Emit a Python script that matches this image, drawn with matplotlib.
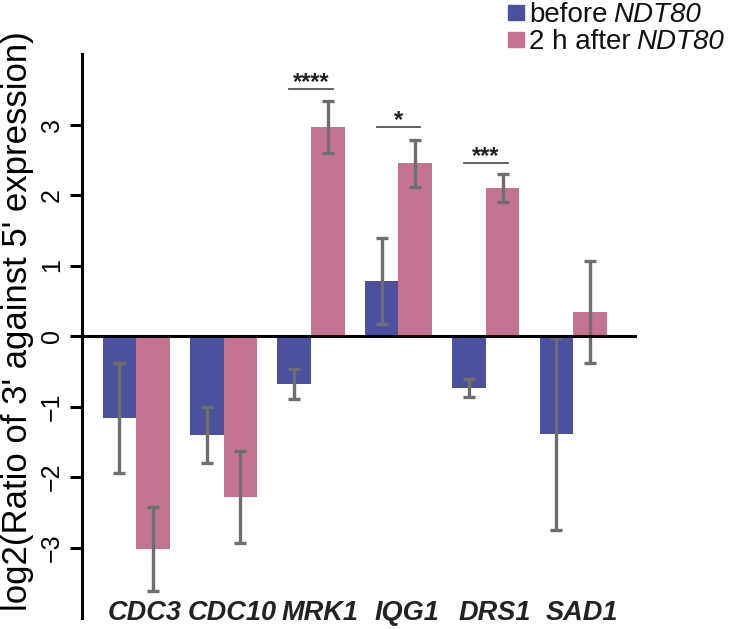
import matplotlib
matplotlib.use("Agg")
import matplotlib.pyplot as plt
import numpy as np
from matplotlib.patches import Rectangle
from matplotlib import font_manager

plt.rcParams['font.family'] = ['Liberation Sans', 'DejaVu Sans']

genes = ["CDC3", "CDC10", "MRK1", "IQG1", "DRS1", "SAD1"]
before_vals = [-1.16, -1.40, -0.68, 0.78, -0.74, -1.39]
before_err = [0.78, 0.40, 0.21, 0.61, 0.13, 1.36]
after_vals = [-3.02, -2.28, 2.96, 2.45, 2.10, 0.34]
after_err = [0.60, 0.65, 0.37, 0.33, 0.20, 0.73]
sig_genes = ["MRK1", "IQG1", "DRS1"]
sig_labels = ["****", "*", "***"]
sig_heights = [3.5, 2.96, 2.45]
yticks = [-3, -2, -1, 0, 1, 2, 3]
legend_plain = ["before", "2 h after"]
legend_italic = ["NDT80", "NDT80"]

blue = "#4a519f"
pink = "#c57392"
errc = "#6e6e6e"

names = {f.name for f in font_manager.fontManager.ttflist}
narrow = 'Liberation Sans Narrow' in names
gene_family = ['Liberation Sans Narrow', 'Liberation Sans'] if narrow else ['Liberation Sans']
gene_size = 22 if narrow else 19.5

W, H = 730, 629
fig = plt.figure(figsize=(W/100, H/100), dpi=100)
ax = fig.add_axes([82/W, 1-618/H, (637-82)/W, (618-54)/H])

x = np.arange(len(genes))
w = 0.385
ekw = dict(ecolor=errc, elinewidth=2.4, capsize=4.5, capthick=2.4)
ax.bar(x - w/2, before_vals, w, color=blue, yerr=before_err, error_kw=ekw, zorder=2)
ax.bar(x + w/2, after_vals, w, color=pink, yerr=after_err, error_kw=ekw, zorder=2)
ax.axhline(0, color="black", lw=2.2, zorder=3)

for g, lab, h in zip(sig_genes, sig_labels, sig_heights):
    i = genes.index(g)
    ax.plot([i - 0.25, i + 0.25], [h, h], color="#555555", lw=1.3)
    ax.text(i, h + 0.0, lab, ha="center", va="baseline", fontsize=17, fontweight="bold", color="#222222")

ax.set_xlim(-0.62, 5.73)
ax.set_ylim(-4.0, 4.0)
ax.set_yticks(yticks)
ax.set_yticklabels([str(t).replace("-", "\u2212") for t in yticks], rotation=90, va="center", fontsize=18)
ax.tick_params(axis="y", length=9, width=2.2, pad=4)
ax.set_xticks([])
for s in ["top", "right", "bottom"]:
    ax.spines[s].set_visible(False)
ax.spines["left"].set_linewidth(2.2)

for i, g in enumerate(genes):
    ax.text(i + 0.1, -0.0035, g, transform=ax.get_xaxis_transform(), ha="center", va="baseline",
            fontsize=gene_size, fontweight="bold", fontstyle="italic", color="#222222",
            family=gene_family)

fig.text(18/W, 1-321/H, "log2(Ratio of 3' against 5' expression)", rotation=90,
         ha="center", va="center", fontsize=25)

# legend drawn manually (mixed upright / italic text)
colors = [blue, pink]
sq_tops = [5, 32]
leg_texts = []
for c, top, p, it in zip(colors, sq_tops, legend_plain, legend_italic):
    fig.patches.append(Rectangle((508/W, 1-(top+15)/H), 16/W, 15/H, transform=fig.transFigure,
                                 color=c, figure=fig))
    t1 = fig.text(529/W, 1-(top+17)/H, p, fontsize=20, va="baseline", ha="left", color="#111111")
    t2 = fig.text(0, 1-(top+17)/H, it, fontsize=20, fontstyle="italic", va="baseline", ha="left",
                  color="#111111")
    leg_texts.append((t1, t2))
fig.canvas.draw()
r = fig.canvas.get_renderer()
for t1, t2 in leg_texts:
    bb = t1.get_window_extent(r)
    t2.set_x((bb.x1 + 5.5) / W)

fig.savefig("out.png", dpi=100)
